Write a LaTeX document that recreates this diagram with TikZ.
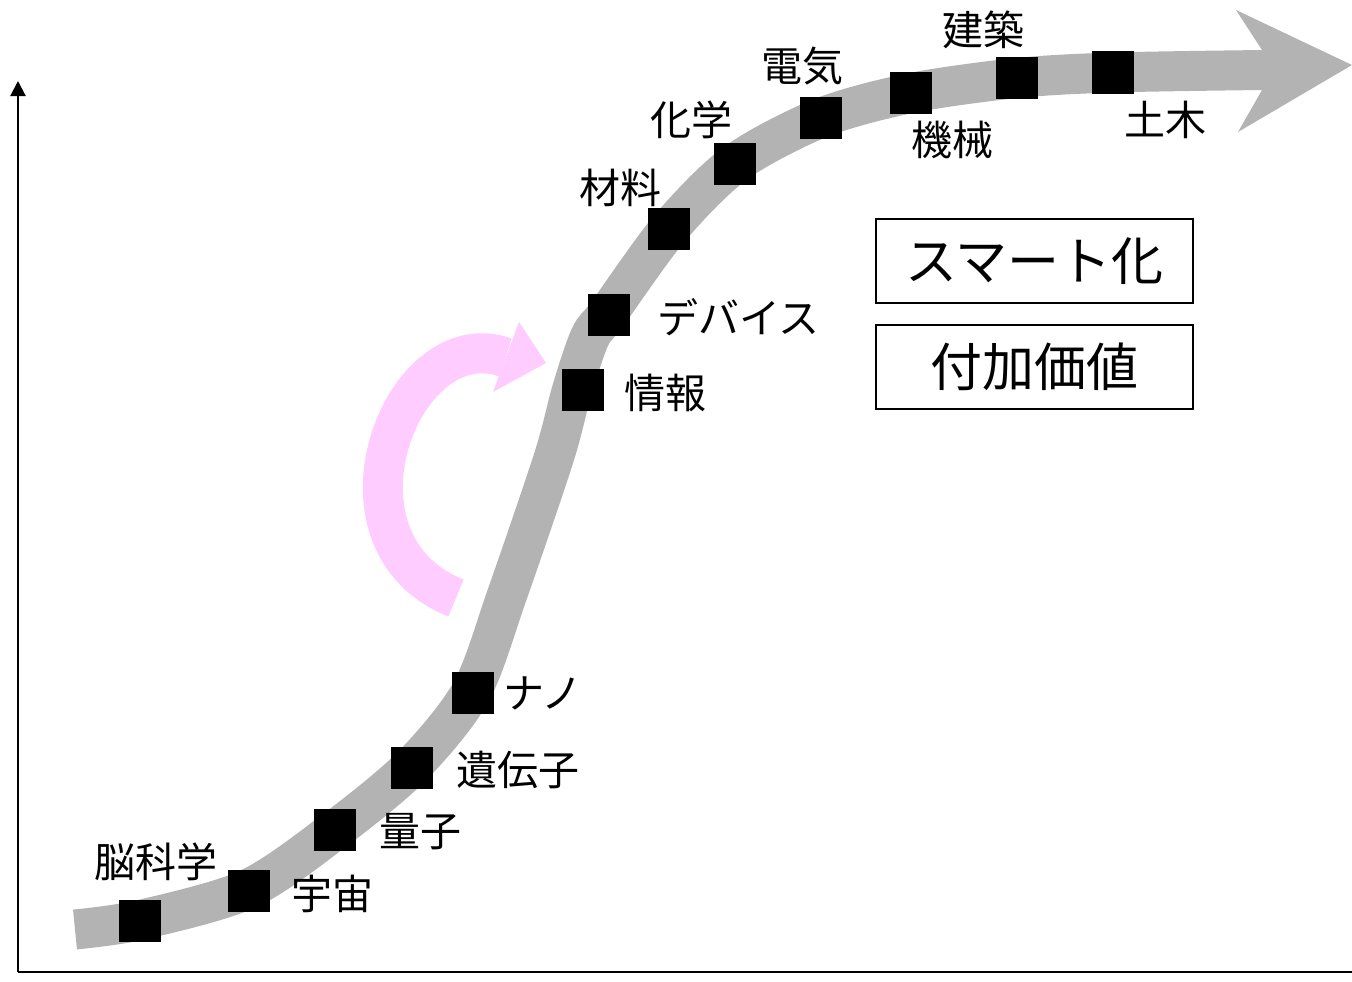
\documentclass[tikz,border=0pt]{standalone}
\usepackage{fontspec}
\setmainfont{Noto Sans CJK JP}
\usetikzlibrary{arrows.meta}
\definecolor{bandgray}{RGB}{179,179,179}
\definecolor{pinkc}{RGB}{255,204,255}
\tikzset{
  sq/.style={fill=black, draw=none, minimum size=42pt, inner sep=0pt, outer sep=0pt},
  lbl/.style={font=\fontsize{41}{41}\selectfont, inner sep=0pt},
  boxlbl/.style={draw=black, line width=1.8pt, minimum width=317pt, minimum height=84pt, inner sep=0pt, font=\fontsize{52}{52}\selectfont},
  axis/.style={line width=2.2pt, black}
}
\begin{document}
\begin{tikzpicture}[x=1pt,y=-1pt]
\useasboundingbox (0,0) rectangle (1352,982);
\fill[white] (0,0) rectangle (1352,982);
% axes
\coordinate (o) at (18,972);
\coordinate (ytop) at (18,81);
\coordinate (xend) at (1352,972);
\draw[axis, -{Triangle[length=15pt,width=15pt]}] (o) -- (ytop);
\draw[axis] (o) -- (xend);
% gray S-curve
\draw[bandgray, line width=40pt, line cap=butt] plot[smooth, tension=0.5] coordinates {
 (75,929.5) (140,920) (248,889) (335,830) (412,766) (471,692) (507,595) (554,457) (572,390) (590,337) (608,313) (669,229) (735,163.5) (820.5,118) (911,93) (1017,78) (1113,72.5) (1263,70)};
\fill[bandgray] (1262,50) -- (1236,10) -- (1352,65) -- (1238,132) -- (1262,90) -- cycle;
% pink arrow
\coordinate (pa) at (456,598);
\coordinate (pb) at (505.5,357.5);
\draw[pinkc, line width=40pt] (pa) .. controls (316,542) and (402,320) .. (pb);
\fill[pinkc] (519,322) -- (546,363) -- (493,392) -- cycle;
% squares
\node[sq] (s1) at (140,921) {};
\node[sq] (s2) at (248.5,891) {};
\node[sq] (s3) at (335.3,830) {};
\node[sq] (s4) at (412,768) {};
\node[sq] (s5) at (472.5,692.5) {};
\node[sq] (s6) at (582.5,390) {};
\node[sq] (s7) at (608.5,315) {};
\node[sq] (s8) at (669,229) {};
\node[sq] (s9) at (735,163.5) {};
\node[sq] (s10) at (820.5,118) {};
\node[sq] (s11) at (911,93) {};
\node[sq] (s12) at (1017,78) {};
\node[sq] (s13) at (1113,72.5) {};
% labels
\node[lbl] (l1) at (156,862) {脳科学};
\node[lbl] (l2) at (332,894) {宇宙};
\node[lbl] (l3) at (420,832) {量子};
\node[lbl] (l4) at (517.5,770) {遺伝子};
\node[lbl] (l5) at (543,693) {ナノ};
\node[lbl] (l6) at (665.5,393) {情報};
\node[lbl] (l7) at (738.5,317) {デバイス};
\node[lbl] (l8) at (620,188) {材料};
\node[lbl] (l9) at (691.5,120) {化学};
\node[lbl] (l10) at (802,66) {電気};
\node[lbl] (l11) at (952,140) {機械};
\node[lbl] (l12) at (983,30) {建築};
\node[lbl] (l13) at (1165,120) {土木};
% boxes
\node[boxlbl] (b1) at (1034.5,261) {スマート化};
\node[boxlbl] (b2) at (1034.5,367) {付加価値};
\end{tikzpicture}
\end{document}
